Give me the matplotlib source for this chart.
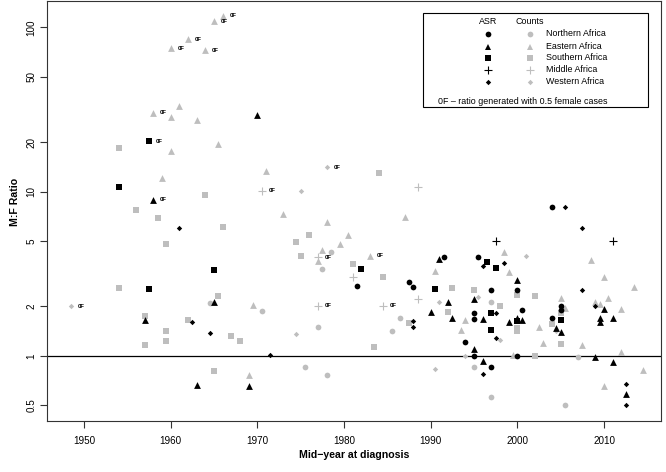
import matplotlib
matplotlib.use("Agg")
import matplotlib.pyplot as plt
from matplotlib.patches import Rectangle
from matplotlib.lines import Line2D
from matplotlib.transforms import offset_copy

plt.rcParams['font.family'] = ['Liberation Sans', 'DejaVu Sans']

# ---------------- data ----------------
# Northern Africa
north_asr_year = [1981.5, 1987.5, 1988.0, 1991.5, 1995.5, 1997.0, 2000.0, 1995.0, 1995.0, 2000.5,
                  1994.0, 1995.0, 2000.0, 1997.0, 2005.0, 2005.0, 2004.0, 2004.0]
north_asr_ratio = [2.67, 2.82, 2.64, 4.02, 4.02, 2.52, 2.52, 1.82, 1.68, 1.90,
                   1.21, 1.00, 1.00, 0.86, 2.02, 1.91, 1.69, 8.04]
north_asr_0f = [0] * 18

north_cnt_year = [1964.5, 1978.5, 1977.5, 1970.5, 1986.5, 1977.0, 1985.5, 1975.5, 1978.0, 1997.0,
                  1995.0, 1997.0, 2007.0, 2005.5]
north_cnt_ratio = [2.09, 4.28, 3.38, 1.88, 1.69, 1.51, 1.41, 0.854, 0.766, 2.14,
                   0.86, 0.56, 0.98, 0.50]
north_cnt_0f = [0] * 14

# Eastern Africa
east_asr_year = [1970.0, 1958.0, 1965.0, 1957.0, 1963.0, 1969.0, 1991.0, 1990.0, 2000.0, 1992.0,
                 1995.0, 1992.5, 1996.0, 1999.0, 2000.0, 2000.5, 1995.0, 1996.0, 2004.5, 2005.0,
                 2010.0, 2009.5, 2009.5, 2011.0, 2009.0, 2011.0, 2012.5]
east_asr_ratio = [29.3, 8.9, 2.12, 1.66, 0.666, 0.657, 3.9, 1.85, 2.9, 2.12,
                  2.22, 1.71, 1.68, 1.60, 1.70, 1.66, 1.10, 0.93, 1.47, 1.39,
                  1.93, 1.71, 1.60, 1.70, 0.98, 0.923, 0.587]
east_asr_0f = [0, 1] + [0] * 25

east_cnt_year = [1966.0, 1965.0, 1962.0, 1960.0, 1964.0, 1958.0, 1961.0, 1960.0, 1963.0, 1960.0,
                 1965.5, 1959.0, 1971.0, 1973.0, 1978.0, 1987.0, 1980.5, 1979.5, 1977.5, 1977.0,
                 1983.0, 1990.5, 1969.5, 1969.0, 1998.5, 2008.5, 1999.0, 2010.0, 1994.0, 1993.5,
                 1999.5, 2002.5, 2003.0, 2005.0, 2005.5, 2007.5, 2010.5, 2013.5, 2009.0, 2009.5,
                 2012.0, 2012.0, 2014.5, 2010.0]
east_cnt_ratio = [118, 109, 84.6, 74.6, 72.6, 30.3, 33.4, 28.6, 27.3, 17.7,
                  19.4, 12.06, 13.4, 7.29, 6.57, 7.04, 5.47, 4.83, 4.42, 3.8,
                  4.06, 3.28, 2.04, 0.766, 4.28, 3.84, 3.23, 3.01, 1.66, 1.43,
                  1.02, 1.49, 1.20, 2.24, 1.97, 1.17, 2.24, 2.62, 2.12, 2.06,
                  1.93, 1.05, 0.82, 0.657]
east_cnt_0f = [1, 1, 1, 1, 1, 1] + [0] * 14 + [1] + [0] * 23

# Southern Africa
south_asr_year = [1957.5, 1954.0, 1965.0, 1957.5, 1982.0, 1990.5, 1996.5, 1997.5, 1997.0, 1997.0,
                  2000.0, 2005.0]
south_asr_ratio = [20.3, 10.7, 3.34, 2.55, 3.40, 2.55, 3.73, 3.45, 1.83, 1.43,
                   1.63, 1.66]
south_asr_0f = [1] + [0] * 11

south_cnt_year = [1954.0, 1964.0, 1956.0, 1958.5, 1966.0, 1959.5, 1954.0, 1965.5, 1957.0, 1962.0,
                  1959.5, 1967.0, 1968.0, 1959.5, 1957.0, 1965.0, 1984.0, 1976.0, 1974.5, 1975.0,
                  1981.0, 1984.5, 1987.5, 1983.5, 1992.5, 1995.0, 2000.0, 1998.0, 2002.0, 1992.0,
                  2000.0, 2000.0, 2002.0, 2005.0, 2004.0, 2005.0]
south_cnt_ratio = [18.4, 9.59, 7.74, 6.89, 6.12, 4.81, 2.60, 2.33, 1.76, 1.65,
                   1.41, 1.32, 1.24, 1.24, 1.17, 0.81, 13.05, 5.45, 4.92, 4.06,
                   3.63, 3.03, 1.58, 1.13, 2.58, 2.52, 2.36, 2.02, 2.32, 1.86,
                   1.47, 1.42, 1.00, 1.82, 1.57, 1.19]
south_cnt_0f = [0] * 36

# Middle Africa
middle_asr_year = [1997.5, 2011.0]
middle_asr_ratio = [5.03, 5.03]
middle_asr_0f = [0, 0]

middle_cnt_year = [1970.5, 1988.5, 1977.0, 1981.0, 1977.0, 1984.5, 1988.5]
middle_cnt_ratio = [10.1, 10.6, 4.0, 3.04, 2.02, 2.02, 2.21]
middle_cnt_0f = [1, 0, 1, 0, 1, 1, 0]

# Western Africa
west_asr_year = [1961.0, 1962.5, 1964.5, 1971.5, 1988.0, 1988.0, 2005.5, 2007.5, 1996.0, 1998.5,
                 1997.5, 1997.5, 1996.0, 2007.5, 2009.0, 2012.5, 2012.5]
west_asr_ratio = [6.01, 1.62, 1.37, 1.01, 1.64, 1.51, 8.04, 6.04, 3.53, 3.68,
                  1.82, 1.28, 0.777, 2.52, 2.01, 0.673, 0.50]
west_asr_0f = [0] * 17

west_cnt_year = [1948.5, 1978.0, 1975.0, 1974.5, 1991.0, 1990.5, 2001.0, 1995.5, 1998.0, 1994.0,
                 2004.5]
west_cnt_ratio = [2.01, 14.1, 10.06, 1.36, 2.12, 0.837, 4.08, 2.28, 1.25, 1.0,
                  1.41]
west_cnt_0f = [1, 1] + [0] * 9

regions = ["Northern Africa", "Eastern Africa", "Southern Africa", "Middle Africa", "Western Africa"]
x_ticks = [1950, 1960, 1970, 1980, 1990, 2000, 2010]
y_ticks = [0.5, 1, 2, 5, 10, 20, 50, 100]
y_tick_labels = ["0.5", "1", "2", "5", "10", "20", "50", "100"]

# ---------------- styles ----------------
GRAY = "#BEBEBE"
BLACK = "#000000"
marker_style = {
    "Northern Africa": dict(marker="o", s=17, lw=0),
    "Eastern Africa": dict(marker="^", s=24, lw=0),
    "Southern Africa": dict(marker="s", s=15, lw=0),
    "Middle Africa": dict(marker="+", s=40, lw=0.8),
    "Western Africa": dict(marker="D", s=7.5, lw=0),
}

W, H = 666, 472
fig = plt.figure(figsize=(W / 100, H / 100), dpi=100)
L, R, T, B = 47.3, 661.0, 1.0, 420.7
ax = fig.add_axes([L / W, 1 - B / H, (R - L) / W, (B - T) / H])
ax.set_yscale("log")
ax.set_xlim(1945.77, 1950 + (R - 84) / 8.667)
ax.set_ylim(0.4035, 144.6)

ax.axhline(1, color="black", lw=0.9, zorder=1)

series = [
    ("Northern Africa", GRAY, north_cnt_year, north_cnt_ratio, north_cnt_0f),
    ("Eastern Africa", GRAY, east_cnt_year, east_cnt_ratio, east_cnt_0f),
    ("Southern Africa", GRAY, south_cnt_year, south_cnt_ratio, south_cnt_0f),
    ("Middle Africa", GRAY, middle_cnt_year, middle_cnt_ratio, middle_cnt_0f),
    ("Western Africa", GRAY, west_cnt_year, west_cnt_ratio, west_cnt_0f),
    ("Northern Africa", BLACK, north_asr_year, north_asr_ratio, north_asr_0f),
    ("Eastern Africa", BLACK, east_asr_year, east_asr_ratio, east_asr_0f),
    ("Southern Africa", BLACK, south_asr_year, south_asr_ratio, south_asr_0f),
    ("Middle Africa", BLACK, middle_asr_year, middle_asr_ratio, middle_asr_0f),
    ("Western Africa", BLACK, west_asr_year, west_asr_ratio, west_asr_0f),
]

lab_tr = offset_copy(ax.transData, fig=fig, x=4.8, y=0, units="points")
for name, col, xs, ys, zf in series:
    st = marker_style[name]
    if st["marker"] == "+":
        ax.scatter(xs, ys, marker="+", s=st["s"], c=col, linewidths=st["lw"], zorder=3)
    else:
        ax.scatter(xs, ys, marker=st["marker"], s=st["s"], c=col, linewidths=0, zorder=3)
    for x, y, f in zip(xs, ys, zf):
        if f:
            ax.text(x, y, "0F", transform=lab_tr, fontsize=4.2, fontweight="bold",
                    ha="left", va="center", zorder=4)

ax.set_xticks(x_ticks)
ax.set_xticklabels([str(t) for t in x_ticks])
ax.set_yticks(y_ticks)
ax.set_yticklabels(y_tick_labels)
ax.minorticks_off()
ax.tick_params(axis="both", which="major", direction="out", length=5, width=0.8,
               labelsize=7.1, color="#333333")
ax.tick_params(axis="x", pad=6)
ax.tick_params(axis="y", pad=3, labelrotation=90)
for lbl in ax.get_yticklabels():
    lbl.set_va("center")
for sp in ax.spines.values():
    sp.set_linewidth(0.8)
    sp.set_color("#333333")

def fx(x):
    return x / W
def fy(y):
    return 1 - y / H

fig.text(fx(15), fy(202), "M:F Ratio", rotation=90, ha="center", va="center",
         fontsize=7.6, fontweight="bold")
fig.text(fx(354), fy(455), "Mid\u2212year at diagnosis", ha="center", va="center",
         fontsize=7.6, fontweight="bold")

# legend box (manual, R-style)
lx0, ly0, lx1, ly1 = 423, 13, 648, 107
fig.patches.append(Rectangle((fx(lx0), fy(ly1)), (lx1 - lx0) / W, (ly1 - ly0) / H,
                             transform=fig.transFigure, fill=False, lw=0.8,
                             edgecolor="black", zorder=5))
fig.text(fx(488), fy(21), "ASR", ha="center", va="center", fontsize=6.4)
fig.text(fx(530), fy(21), "Counts", ha="center", va="center", fontsize=6.4)
row_y = [34, 46.5, 58, 70, 81.5]
for name, yy in zip(regions, row_y):
    st = marker_style[name]
    for xx, col in [(488, BLACK), (530, GRAY)]:
        if st["marker"] == "+":
            fig.add_artist(Line2D([fx(xx)], [fy(yy)], marker="+", markersize=st["s"] ** 0.5,
                                  color=col, mew=st["lw"], transform=fig.transFigure, lw=0))
        else:
            fig.add_artist(Line2D([fx(xx)], [fy(yy)], marker=st["marker"], markersize=st["s"] ** 0.5,
                                  color=col, mew=0, transform=fig.transFigure, lw=0))
    fig.text(fx(546), fy(yy), name, ha="left", va="center", fontsize=6.4)
fig.text(fx(438), fy(101), "0F \u2013 ratio generated with 0.5 female cases",
         ha="left", va="center", fontsize=6.4)

fig.savefig("out.png", dpi=100)
